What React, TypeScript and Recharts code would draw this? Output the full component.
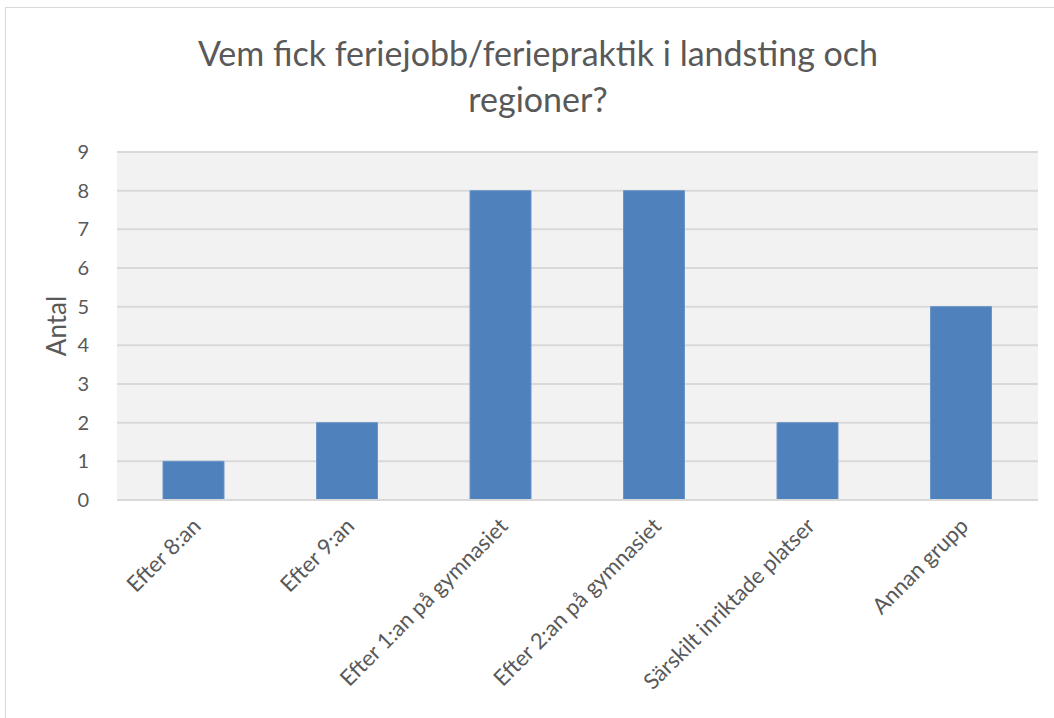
import { BarChart, Bar, XAxis, YAxis, CartesianGrid } from 'recharts';

const categories = [
  'Efter 8:an',
  'Efter 9:an',
  'Efter 1:an på gymnasiet',
  'Efter 2:an på gymnasiet',
  'Särskilt inriktade platser',
  'Annan grupp',
];
const counts = [1, 2, 8, 8, 2, 5];
const yTicks = [0, 1, 2, 3, 4, 5, 6, 7, 8, 9];

const FONT = 'Lato, "Open Sans", sans-serif';
const TEXT = '#595959';

const data = categories.map((name, i) => ({ name, value: counts[i] }));

const AngledTick = ({ x, y, payload }: any) => (
  <g transform={`translate(${x + 3},${y + 14})`}>
    <text
      transform="rotate(-45)"
      textAnchor="end"
      dy="0.35em"
      fill={TEXT}
      fontSize={22}
      fontFamily={FONT}
    >
      {payload.value}
    </text>
  </g>
);

export default function App() {
  return (
    <div style={{ position: 'absolute', left: 0, top: 0, width: 1054, height: 718, background: '#fff' }}>
      <div
        style={{
          position: 'absolute',
          left: 5,
          top: 7,
          width: 1060,
          height: 720,
          borderLeft: '1px solid #d9d9d9',
          borderTop: '1px solid #d9d9d9',
        }}
      />
      <div
        style={{
          position: 'absolute',
          left: 0,
          top: 30,
          width: 1076,
          textAlign: 'center',
          fontFamily: FONT,
          fontSize: 34,
          lineHeight: '46px',
          color: TEXT,
        }}
      >
        Vem fick feriejobb/feriepraktik i landsting och
        <br />
        regioner?
      </div>
      <BarChart
        width={1054}
        height={718}
        data={data}
        margin={{ top: 152, right: 16, bottom: 0, left: 47 }}
        style={{ position: 'absolute', left: 0, top: 0 }}
      >
        <CartesianGrid vertical={false} fill="#f2f2f2" stroke="#d9d9d9" strokeWidth={2} />
        <XAxis
          dataKey="name"
          interval={0}
          tick={<AngledTick />}
          tickLine={false}
          axisLine={{ stroke: '#d9d9d9', strokeWidth: 2 }}
          height={218}
        />
        <YAxis
          domain={[0, 9]}
          ticks={yTicks}
          interval={0}
          width={70}
          axisLine={false}
          tickLine={false}
          tickMargin={22}
          tick={{ fill: TEXT, fontSize: 20, fontFamily: FONT }}
          label={{
            value: 'Antal',
            angle: -90,
            position: 'insideLeft',
            offset: 0,
            dx: 10,
            fill: TEXT,
            fontSize: 26,
            fontFamily: FONT,
            style: { textAnchor: 'middle' },
          }}
        />
        <Bar
          dataKey="value"
          fill="#4f81bd"
          stroke="#6a95c8"
          strokeWidth={1}
          barSize={61}
          isAnimationActive={false}
        />
      </BarChart>
    </div>
  );
}
